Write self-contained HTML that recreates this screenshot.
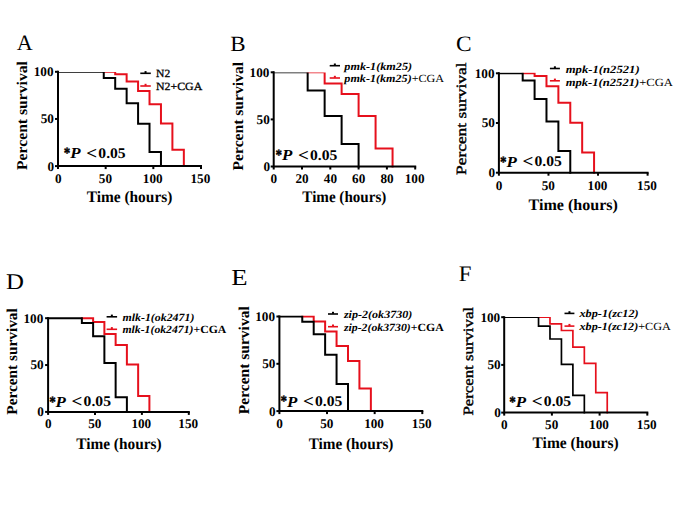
<!DOCTYPE html>
<html><head><meta charset="utf-8"><style>
html,body{margin:0;padding:0;background:#fff;width:685px;height:513px;overflow:hidden}
svg{display:block}
text{text-rendering:geometricPrecision}
</style></head><body>
<svg width="685" height="513" viewBox="0 0 685 513">
<defs>
<clipPath id="c0"><rect x="53" y="72.1" width="163" height="99.3"/></clipPath>
<clipPath id="c1"><rect x="268.7" y="72.4" width="161.5" height="99.2"/></clipPath>
<clipPath id="c2"><rect x="493.9" y="72.8" width="168.7" height="104.4"/></clipPath>
<clipPath id="c3"><rect x="43.1" y="317.1" width="160.7" height="98.7"/></clipPath>
<clipPath id="c4"><rect x="274.4" y="315.4" width="162.9" height="99.6"/></clipPath>
<clipPath id="c5"><rect x="499.2" y="317.1" width="163.1" height="100.4"/></clipPath>
</defs>
<rect width="685" height="513" fill="#fff"/>
<g clip-path="url(#c0)" fill="none" stroke-width="2.0" stroke-linecap="square">
<path d="M103.76,71.8 H115.2 V74.3 H126.64 V81.4 H138.08 V91 H149.52 V104.2 H160.96 V123.4 H172.4 V149.7 H183.84 V166.1" stroke="#e6101c"/>
<path d="M58,71.8 H103.76 V78.1 H115.2 V88.7 H126.64 V103.3 H138.08 V123.7 H149.52 V151.9 H160.96 V166.1" stroke="#000"/>
</g>
<g><path d="M58,70.8 V166.1 H202" fill="none" stroke="#000" stroke-width="2.0"/><path d="M55,166.1 H58" stroke="#000" stroke-width="2.0"/><path d="M55,118.95 H58" stroke="#000" stroke-width="2.0"/><path d="M55,71.8 H58" stroke="#000" stroke-width="2.0"/><path d="M58,166.1 V169.1" stroke="#000" stroke-width="2.0"/><path d="M105.67,166.1 V169.1" stroke="#000" stroke-width="2.0"/><path d="M153.33,166.1 V169.1" stroke="#000" stroke-width="2.0"/><path d="M201,166.1 V169.1" stroke="#000" stroke-width="2.0"/><path d="M140.3,73.3 H150.8" stroke="#000" stroke-width="1.6" fill="none"/><rect x="144.55" y="71.1" width="2" height="2" fill="#000"/><path d="M140.3,86 H150.8" stroke="#e6101c" stroke-width="1.6" fill="none"/><rect x="144.55" y="83.8" width="2" height="2" fill="#e6101c"/></g>
<g clip-path="url(#c1)" fill="none" stroke-width="2.0" stroke-linecap="square">
<path d="M307.66,72.3 H324.64 V83.4 H341.62 V93.9 H358.6 V115.9 H375.58 V148.4 H392.56 V166.5" stroke="#e6101c"/>
<path d="M273.7,72.3 H307.66 V90.6 H324.64 V115.9 H341.62 V143.9 H358.6 V166.5" stroke="#000"/>
</g>
<g><path d="M273.7,71.3 V166.5 H416.2" fill="none" stroke="#000" stroke-width="2.0"/><path d="M270.7,166.5 H273.7" stroke="#000" stroke-width="2.0"/><path d="M270.7,119.4 H273.7" stroke="#000" stroke-width="2.0"/><path d="M270.7,72.3 H273.7" stroke="#000" stroke-width="2.0"/><path d="M273.7,166.5 V169.5" stroke="#000" stroke-width="2.0"/><path d="M302,166.5 V169.5" stroke="#000" stroke-width="2.0"/><path d="M330.3,166.5 V169.5" stroke="#000" stroke-width="2.0"/><path d="M358.6,166.5 V169.5" stroke="#000" stroke-width="2.0"/><path d="M386.9,166.5 V169.5" stroke="#000" stroke-width="2.0"/><path d="M415.2,166.5 V169.5" stroke="#000" stroke-width="2.0"/><path d="M329.7,65.7 H340" stroke="#000" stroke-width="1.6" fill="none"/><rect x="333.85" y="63.5" width="2" height="2" fill="#000"/><path d="M329.7,78 H340" stroke="#e6101c" stroke-width="1.6" fill="none"/><rect x="333.85" y="75.8" width="2" height="2" fill="#e6101c"/></g>
<g clip-path="url(#c2)" fill="none" stroke-width="2.0" stroke-linecap="square">
<path d="M522.69,73.3 H534.59 V76.1 H546.48 V86.3 H558.38 V102.7 H570.28 V122.8 H582.17 V152.6 H594.07 V172.7" stroke="#e6101c"/>
<path d="M498.9,73.3 H522.69 V80.4 H534.59 V98.9 H546.48 V121.5 H558.38 V150.9 H570.28 V172.7" stroke="#000"/>
</g>
<g><path d="M498.9,72.3 V172.7 H648.6" fill="none" stroke="#000" stroke-width="2.0"/><path d="M495.9,172.7 H498.9" stroke="#000" stroke-width="2.0"/><path d="M495.9,123 H498.9" stroke="#000" stroke-width="2.0"/><path d="M495.9,73.3 H498.9" stroke="#000" stroke-width="2.0"/><path d="M498.9,172.7 V175.7" stroke="#000" stroke-width="2.0"/><path d="M548.47,172.7 V175.7" stroke="#000" stroke-width="2.0"/><path d="M598.03,172.7 V175.7" stroke="#000" stroke-width="2.0"/><path d="M647.6,172.7 V175.7" stroke="#000" stroke-width="2.0"/><path d="M549.9,68.5 H559.9" stroke="#000" stroke-width="1.6" fill="none"/><rect x="553.9" y="66.3" width="2" height="2" fill="#000"/><path d="M549.9,80.8 H559.9" stroke="#e6101c" stroke-width="1.6" fill="none"/><rect x="553.9" y="78.6" width="2" height="2" fill="#e6101c"/></g>
<g clip-path="url(#c3)" fill="none" stroke-width="2.0" stroke-linecap="square">
<path d="M81.87,318.2 H93.12 V322 H104.38 V334 H115.64 V345.1 H126.89 V364.5 H138.15 V396.1 H149.4 V411.9" stroke="#e6101c"/>
<path d="M48.1,318.2 H81.87 V322.9 H93.12 V336.3 H104.38 V362.9 H115.64 V397.2 H126.89 V411.9" stroke="#000"/>
</g>
<g><path d="M48.1,317.2 V411.9 H189.8" fill="none" stroke="#000" stroke-width="2.0"/><path d="M45.1,411.9 H48.1" stroke="#000" stroke-width="2.0"/><path d="M45.1,365.05 H48.1" stroke="#000" stroke-width="2.0"/><path d="M45.1,318.2 H48.1" stroke="#000" stroke-width="2.0"/><path d="M48.1,411.9 V414.9" stroke="#000" stroke-width="2.0"/><path d="M95,411.9 V414.9" stroke="#000" stroke-width="2.0"/><path d="M141.9,411.9 V414.9" stroke="#000" stroke-width="2.0"/><path d="M188.8,411.9 V414.9" stroke="#000" stroke-width="2.0"/><path d="M106.6,316.8 H117.1" stroke="#000" stroke-width="1.6" fill="none"/><rect x="110.85" y="314.6" width="2" height="2" fill="#000"/><path d="M106.6,329.3 H117.1" stroke="#e6101c" stroke-width="1.6" fill="none"/><rect x="110.85" y="327.1" width="2" height="2" fill="#e6101c"/></g>
<g clip-path="url(#c4)" fill="none" stroke-width="2.0" stroke-linecap="square">
<path d="M302.26,316.5 H313.7 V321.5 H325.13 V331.4 H336.56 V346 H347.99 V360.9 H359.42 V388.6 H370.86 V411.1" stroke="#e6101c"/>
<path d="M279.4,316.5 H302.26 V321.7 H313.7 V334.2 H325.13 V354.7 H336.56 V383.9 H347.99 V411.1" stroke="#000"/>
</g>
<g><path d="M279.4,315.5 V411.1 H423.3" fill="none" stroke="#000" stroke-width="2.0"/><path d="M276.4,411.1 H279.4" stroke="#000" stroke-width="2.0"/><path d="M276.4,363.8 H279.4" stroke="#000" stroke-width="2.0"/><path d="M276.4,316.5 H279.4" stroke="#000" stroke-width="2.0"/><path d="M279.4,411.1 V414.1" stroke="#000" stroke-width="2.0"/><path d="M327.03,411.1 V414.1" stroke="#000" stroke-width="2.0"/><path d="M374.67,411.1 V414.1" stroke="#000" stroke-width="2.0"/><path d="M422.3,411.1 V414.1" stroke="#000" stroke-width="2.0"/><path d="M328,314 H338" stroke="#000" stroke-width="1.6" fill="none"/><rect x="332" y="311.8" width="2" height="2" fill="#000"/><path d="M328,326.7 H338" stroke="#e6101c" stroke-width="1.6" fill="none"/><rect x="332" y="324.5" width="2" height="2" fill="#e6101c"/></g>
<g clip-path="url(#c5)" fill="none" stroke-width="1.7" stroke-linecap="square">
<path d="M538.54,317.2 H549.99 V323.8 H561.44 V330.5 H572.89 V347.2 H584.34 V363.4 H595.78 V392.6 H607.23 V412.6" stroke="#e6101c"/>
<path d="M504.2,317.2 H538.54 V326.1 H549.99 V339 H561.44 V364.4 H572.89 V395.4 H584.34 V412.6" stroke="#000"/>
</g>
<g><path d="M504.2,316.2 V412.6 H648.3" fill="none" stroke="#000" stroke-width="2.0"/><path d="M501.2,412.6 H504.2" stroke="#000" stroke-width="2.0"/><path d="M501.2,364.9 H504.2" stroke="#000" stroke-width="2.0"/><path d="M501.2,317.2 H504.2" stroke="#000" stroke-width="2.0"/><path d="M504.2,412.6 V415.6" stroke="#000" stroke-width="2.0"/><path d="M551.9,412.6 V415.6" stroke="#000" stroke-width="2.0"/><path d="M599.6,412.6 V415.6" stroke="#000" stroke-width="2.0"/><path d="M647.3,412.6 V415.6" stroke="#000" stroke-width="2.0"/><path d="M564.5,313.4 H574.4" stroke="#000" stroke-width="1.6" fill="none"/><rect x="568.45" y="311.2" width="2" height="2" fill="#000"/><path d="M564.5,326.1 H574.4" stroke="#e6101c" stroke-width="1.6" fill="none"/><rect x="568.45" y="323.9" width="2" height="2" fill="#e6101c"/></g>
<g transform="translate(47.48,170.53)"><text font-family="'Liberation Serif', serif" font-weight="bold" font-size="13.2">0</text></g>
<g transform="translate(40.68,123.33)"><text font-family="'Liberation Serif', serif" font-weight="bold" font-size="13.2">50</text></g>
<g transform="translate(33.7,76.23)"><text font-family="'Liberation Serif', serif" font-weight="bold" font-size="13.2">100</text></g>
<g transform="translate(54.89,182.7)"><text font-family="'Liberation Serif', serif" font-weight="bold" font-size="13.2">0</text></g>
<g transform="translate(98.84,182.7)"><text font-family="'Liberation Serif', serif" font-weight="bold" font-size="13.2">50</text></g>
<g transform="translate(142.85,182.7)"><text font-family="'Liberation Serif', serif" font-weight="bold" font-size="13.2">100</text></g>
<g transform="translate(190.52,182.7)"><text font-family="'Liberation Serif', serif" font-weight="bold" font-size="13.2">150</text></g>
<g transform="translate(16.8,34.9) scale(1.0043,1.0067) translate(0.01,15)"><text font-family="'Liberation Serif', serif" font-size="22">A</text></g>
<g transform="translate(16.8,61.3) scale(0.9338,0.9789) translate(11.17,111)"><text font-family="'Liberation Serif', serif" font-weight="bold" font-size="16" transform="rotate(-90)">Percent survival</text></g>
<g transform="translate(86.6,201.6) scale(0.9625,1) translate(0.04,0)"><text font-family="'Liberation Serif', serif" font-weight="bold" font-size="16">Time (hours)</text></g>
<g transform="translate(64.4,147.7) scale(0.8782,1.0417) translate(-0.64,10)"><text font-family="'Liberation Serif', serif" font-weight="bold" font-size="15" stroke="#000" stroke-width="0.4">*</text></g>
<g transform="translate(70.2,148) scale(1.1261,1.0200) translate(0.04,10)"><text font-family="'Liberation Serif', serif" font-weight="bold" font-style="italic" font-size="15">P</text></g>
<g transform="translate(87.4,149) scale(1.2704,1.1860) translate(-0.92,8.37)"><text font-family="'Liberation Serif', serif" font-weight="bold" font-size="15">&lt;</text></g>
<g transform="translate(99,148.1) scale(1.0403,0.9872) translate(-0.65,10)"><text font-family="'Liberation Serif', serif" font-weight="bold" font-size="15">0.05</text></g>
<g transform="translate(156,77.4) scale(1.0547,1) translate(0.03,0)"><text font-family="'Liberation Serif', serif" font-size="11" stroke="#000" stroke-width="0.3"><tspan>N2</tspan></text></g>
<g transform="translate(156,90) scale(1.0781,1) translate(0.03,0)"><text font-family="'Liberation Serif', serif" font-size="11" stroke="#000" stroke-width="0.3"><tspan>N2+CGA</tspan></text></g>
<g transform="translate(263.38,170.93)"><text font-family="'Liberation Serif', serif" font-weight="bold" font-size="13.2">0</text></g>
<g transform="translate(256.58,123.78)"><text font-family="'Liberation Serif', serif" font-weight="bold" font-size="13.2">50</text></g>
<g transform="translate(249.6,76.73)"><text font-family="'Liberation Serif', serif" font-weight="bold" font-size="13.2">100</text></g>
<g transform="translate(270.59,182.7)"><text font-family="'Liberation Serif', serif" font-weight="bold" font-size="13.2">0</text></g>
<g transform="translate(295.49,182.7)"><text font-family="'Liberation Serif', serif" font-weight="bold" font-size="13.2">20</text></g>
<g transform="translate(323.81,182.7)"><text font-family="'Liberation Serif', serif" font-weight="bold" font-size="13.2">40</text></g>
<g transform="translate(352.09,182.7)"><text font-family="'Liberation Serif', serif" font-weight="bold" font-size="13.2">60</text></g>
<g transform="translate(380.39,182.7)"><text font-family="'Liberation Serif', serif" font-weight="bold" font-size="13.2">80</text></g>
<g transform="translate(404.72,182.7)"><text font-family="'Liberation Serif', serif" font-weight="bold" font-size="13.2">100</text></g>
<g transform="translate(231.2,36) scale(1.0461,0.9867) translate(-0.83,15)"><text font-family="'Liberation Serif', serif" font-size="22">B</text></g>
<g transform="translate(232.3,62.2) scale(0.9338,0.9753) translate(11.17,111)"><text font-family="'Liberation Serif', serif" font-weight="bold" font-size="16" transform="rotate(-90)">Percent survival</text></g>
<g transform="translate(302.3,202.4) scale(0.9434,1) translate(0.04,0)"><text font-family="'Liberation Serif', serif" font-weight="bold" font-size="16">Time (hours)</text></g>
<g transform="translate(276.1,149.7) scale(0.8782,1.0417) translate(-0.64,10)"><text font-family="'Liberation Serif', serif" font-weight="bold" font-size="15" stroke="#000" stroke-width="0.4">*</text></g>
<g transform="translate(281.9,150) scale(1.1261,1.0200) translate(0.04,10)"><text font-family="'Liberation Serif', serif" font-weight="bold" font-style="italic" font-size="15">P</text></g>
<g transform="translate(299.1,151) scale(1.2704,1.1860) translate(-0.92,8.37)"><text font-family="'Liberation Serif', serif" font-weight="bold" font-size="15">&lt;</text></g>
<g transform="translate(310.7,150.1) scale(1.0403,0.9872) translate(-0.65,10)"><text font-family="'Liberation Serif', serif" font-weight="bold" font-size="15">0.05</text></g>
<g transform="translate(344.1,69.9) scale(1.1088,1) translate(0.23,0)"><text font-family="'Liberation Serif', serif" font-size="11"><tspan font-weight="bold" font-style="italic">pmk-1(km25)</tspan></text></g>
<g transform="translate(344.1,82.1) scale(1.1020,1) translate(0.23,0)"><text font-family="'Liberation Serif', serif" font-size="11"><tspan font-weight="bold" font-style="italic">pmk-1(km25)</tspan><tspan>+CGA</tspan></text></g>
<g transform="translate(488.48,177.13)"><text font-family="'Liberation Serif', serif" font-weight="bold" font-size="13.2">0</text></g>
<g transform="translate(481.68,127.38)"><text font-family="'Liberation Serif', serif" font-weight="bold" font-size="13.2">50</text></g>
<g transform="translate(474.7,77.73)"><text font-family="'Liberation Serif', serif" font-weight="bold" font-size="13.2">100</text></g>
<g transform="translate(495.79,189.7)"><text font-family="'Liberation Serif', serif" font-weight="bold" font-size="13.2">0</text></g>
<g transform="translate(541.64,189.7)"><text font-family="'Liberation Serif', serif" font-weight="bold" font-size="13.2">50</text></g>
<g transform="translate(587.55,189.7)"><text font-family="'Liberation Serif', serif" font-weight="bold" font-size="13.2">100</text></g>
<g transform="translate(637.12,189.7)"><text font-family="'Liberation Serif', serif" font-weight="bold" font-size="13.2">150</text></g>
<g transform="translate(456.8,36) scale(1.0641,0.9995) translate(-0.85,15)"><text font-family="'Liberation Serif', serif" font-size="22">C</text></g>
<g transform="translate(456.1,62.5) scale(0.8366,1.0227) translate(12.14,110)"><text font-family="'Liberation Serif', serif" font-size="17" stroke="#000" stroke-width="0.45" transform="rotate(-90)">Percent survival</text></g>
<g transform="translate(528.5,209.7) scale(1.0030,1) translate(0.04,0)"><text font-family="'Liberation Serif', serif" font-weight="bold" font-size="16">Time (hours)</text></g>
<g transform="translate(500.6,156.2) scale(0.8782,1.0417) translate(-0.64,10)"><text font-family="'Liberation Serif', serif" font-weight="bold" font-size="15" stroke="#000" stroke-width="0.4">*</text></g>
<g transform="translate(506.4,156.5) scale(1.1261,1.0200) translate(0.04,10)"><text font-family="'Liberation Serif', serif" font-weight="bold" font-style="italic" font-size="15">P</text></g>
<g transform="translate(523.6,157.5) scale(1.2704,1.1860) translate(-0.92,8.37)"><text font-family="'Liberation Serif', serif" font-weight="bold" font-size="15">&lt;</text></g>
<g transform="translate(535.2,156.6) scale(1.0403,0.9872) translate(-0.65,10)"><text font-family="'Liberation Serif', serif" font-weight="bold" font-size="15">0.05</text></g>
<g transform="translate(565.7,72.7) scale(1.1524,1) translate(0.03,0)"><text font-family="'Liberation Serif', serif" font-size="11"><tspan font-weight="bold" font-style="italic">mpk-1(n2521)</tspan></text></g>
<g transform="translate(565.7,85.5) scale(1.1449,1) translate(0.03,0)"><text font-family="'Liberation Serif', serif" font-size="11"><tspan font-weight="bold" font-style="italic">mpk-1(n2521)</tspan><tspan>+CGA</tspan></text></g>
<g transform="translate(37.28,416.33)"><text font-family="'Liberation Serif', serif" font-weight="bold" font-size="13.2">0</text></g>
<g transform="translate(30.48,369.43)"><text font-family="'Liberation Serif', serif" font-weight="bold" font-size="13.2">50</text></g>
<g transform="translate(23.5,322.63)"><text font-family="'Liberation Serif', serif" font-weight="bold" font-size="13.2">100</text></g>
<g transform="translate(44.99,428.3)"><text font-family="'Liberation Serif', serif" font-weight="bold" font-size="13.2">0</text></g>
<g transform="translate(88.17,428.3)"><text font-family="'Liberation Serif', serif" font-weight="bold" font-size="13.2">50</text></g>
<g transform="translate(131.42,428.3)"><text font-family="'Liberation Serif', serif" font-weight="bold" font-size="13.2">100</text></g>
<g transform="translate(178.32,428.3)"><text font-family="'Liberation Serif', serif" font-weight="bold" font-size="13.2">150</text></g>
<g transform="translate(7,274) scale(1.1312,1.0200) translate(-0.83,15)"><text font-family="'Liberation Serif', serif" font-size="22">D</text></g>
<g transform="translate(6.8,308.5) scale(0.9425,0.9562) translate(11.17,111)"><text font-family="'Liberation Serif', serif" font-weight="bold" font-size="16" transform="rotate(-90)">Percent survival</text></g>
<g transform="translate(76.2,448.6) scale(0.9580,1) translate(0.04,0)"><text font-family="'Liberation Serif', serif" font-weight="bold" font-size="16">Time (hours)</text></g>
<g transform="translate(49.7,396.2) scale(0.8782,1.0417) translate(-0.64,10)"><text font-family="'Liberation Serif', serif" font-weight="bold" font-size="15" stroke="#000" stroke-width="0.4">*</text></g>
<g transform="translate(55.5,396.5) scale(1.1261,1.0200) translate(0.04,10)"><text font-family="'Liberation Serif', serif" font-weight="bold" font-style="italic" font-size="15">P</text></g>
<g transform="translate(72.7,397.5) scale(1.2704,1.1860) translate(-0.92,8.37)"><text font-family="'Liberation Serif', serif" font-weight="bold" font-size="15">&lt;</text></g>
<g transform="translate(84.3,396.6) scale(1.0403,0.9872) translate(-0.65,10)"><text font-family="'Liberation Serif', serif" font-weight="bold" font-size="15">0.05</text></g>
<g transform="translate(122.4,320.6) scale(1.0805,1) translate(0.03,0)"><text font-family="'Liberation Serif', serif" font-size="11"><tspan font-weight="bold" font-style="italic">mlk-1(ok2471)</tspan></text></g>
<g transform="translate(122.4,333.1) scale(1.0671,1) translate(0.03,0)"><text font-family="'Liberation Serif', serif" font-size="11"><tspan font-weight="bold" font-style="italic">mlk-1(ok2471)</tspan><tspan font-weight="bold">+CGA</tspan></text></g>
<g transform="translate(268.98,415.53)"><text font-family="'Liberation Serif', serif" font-weight="bold" font-size="13.2">0</text></g>
<g transform="translate(262.18,368.18)"><text font-family="'Liberation Serif', serif" font-weight="bold" font-size="13.2">50</text></g>
<g transform="translate(255.2,320.93)"><text font-family="'Liberation Serif', serif" font-weight="bold" font-size="13.2">100</text></g>
<g transform="translate(276.29,427.5)"><text font-family="'Liberation Serif', serif" font-weight="bold" font-size="13.2">0</text></g>
<g transform="translate(320.21,427.5)"><text font-family="'Liberation Serif', serif" font-weight="bold" font-size="13.2">50</text></g>
<g transform="translate(364.18,427.5)"><text font-family="'Liberation Serif', serif" font-weight="bold" font-size="13.2">100</text></g>
<g transform="translate(411.82,427.5)"><text font-family="'Liberation Serif', serif" font-weight="bold" font-size="13.2">150</text></g>
<g transform="translate(232.3,269.8) scale(1.2147,1.0400) translate(-0.83,15)"><text font-family="'Liberation Serif', serif" font-size="22">E</text></g>
<g transform="translate(238,306.5) scale(0.9425,0.9698) translate(11.17,111)"><text font-family="'Liberation Serif', serif" font-weight="bold" font-size="16" transform="rotate(-90)">Percent survival</text></g>
<g transform="translate(308.6,448.6) scale(0.9524,1) translate(0.04,0)"><text font-family="'Liberation Serif', serif" font-weight="bold" font-size="16">Time (hours)</text></g>
<g transform="translate(281.1,396) scale(0.8782,1.0417) translate(-0.64,10)"><text font-family="'Liberation Serif', serif" font-weight="bold" font-size="15" stroke="#000" stroke-width="0.4">*</text></g>
<g transform="translate(286.9,396.3) scale(1.1261,1.0200) translate(0.04,10)"><text font-family="'Liberation Serif', serif" font-weight="bold" font-style="italic" font-size="15">P</text></g>
<g transform="translate(304.1,397.3) scale(1.2704,1.1860) translate(-0.92,8.37)"><text font-family="'Liberation Serif', serif" font-weight="bold" font-size="15">&lt;</text></g>
<g transform="translate(315.7,396.4) scale(1.0403,0.9872) translate(-0.65,10)"><text font-family="'Liberation Serif', serif" font-weight="bold" font-size="15">0.05</text></g>
<g transform="translate(343.7,317.8) scale(1.0979,1) translate(0.17,0)"><text font-family="'Liberation Serif', serif" font-size="11"><tspan font-weight="bold" font-style="italic">zip-2(ok3730)</tspan></text></g>
<g transform="translate(343.7,330.5) scale(1.0727,1) translate(0.17,0)"><text font-family="'Liberation Serif', serif" font-size="11"><tspan font-weight="bold" font-style="italic">zip-2(ok3730)</tspan><tspan font-weight="bold">+CGA</tspan></text></g>
<g transform="translate(494.18,417.03)"><text font-family="'Liberation Serif', serif" font-weight="bold" font-size="13.2">0</text></g>
<g transform="translate(487.38,369.28)"><text font-family="'Liberation Serif', serif" font-weight="bold" font-size="13.2">50</text></g>
<g transform="translate(480.4,321.63)"><text font-family="'Liberation Serif', serif" font-weight="bold" font-size="13.2">100</text></g>
<g transform="translate(501.09,428.5)"><text font-family="'Liberation Serif', serif" font-weight="bold" font-size="13.2">0</text></g>
<g transform="translate(545.07,428.5)"><text font-family="'Liberation Serif', serif" font-weight="bold" font-size="13.2">50</text></g>
<g transform="translate(589.12,428.5)"><text font-family="'Liberation Serif', serif" font-weight="bold" font-size="13.2">100</text></g>
<g transform="translate(636.82,428.5)"><text font-family="'Liberation Serif', serif" font-weight="bold" font-size="13.2">150</text></g>
<g transform="translate(459.7,266.3) scale(1.0379,1.0133) translate(-0.83,15)"><text font-family="'Liberation Serif', serif" font-size="22">F</text></g>
<g transform="translate(463,307) scale(0.8366,0.9864) translate(12.14,110)"><text font-family="'Liberation Serif', serif" font-size="17" stroke="#000" stroke-width="0.45" transform="rotate(-90)">Percent survival</text></g>
<g transform="translate(532.5,448) scale(0.9670,1) translate(0.04,0)"><text font-family="'Liberation Serif', serif" font-weight="bold" font-size="16">Time (hours)</text></g>
<g transform="translate(509.9,396.2) scale(0.8782,1.0417) translate(-0.64,10)"><text font-family="'Liberation Serif', serif" font-weight="bold" font-size="15" stroke="#000" stroke-width="0.4">*</text></g>
<g transform="translate(515.7,396.5) scale(1.1261,1.0200) translate(0.04,10)"><text font-family="'Liberation Serif', serif" font-weight="bold" font-style="italic" font-size="15">P</text></g>
<g transform="translate(532.9,397.5) scale(1.2704,1.1860) translate(-0.92,8.37)"><text font-family="'Liberation Serif', serif" font-weight="bold" font-size="15">&lt;</text></g>
<g transform="translate(544.5,396.6) scale(1.0403,0.9872) translate(-0.65,10)"><text font-family="'Liberation Serif', serif" font-weight="bold" font-size="15">0.05</text></g>
<g transform="translate(579.3,317.2) scale(1.1138,1) translate(0.15,0)"><text font-family="'Liberation Serif', serif" font-size="11"><tspan font-weight="bold" font-style="italic">xbp-1(zc12)</tspan></text></g>
<g transform="translate(579.3,329.6) scale(1.1056,1) translate(0.15,0)"><text font-family="'Liberation Serif', serif" font-size="11"><tspan font-weight="bold" font-style="italic">xbp-1(zc12)</tspan><tspan>+CGA</tspan></text></g>
</svg>
</body></html>
